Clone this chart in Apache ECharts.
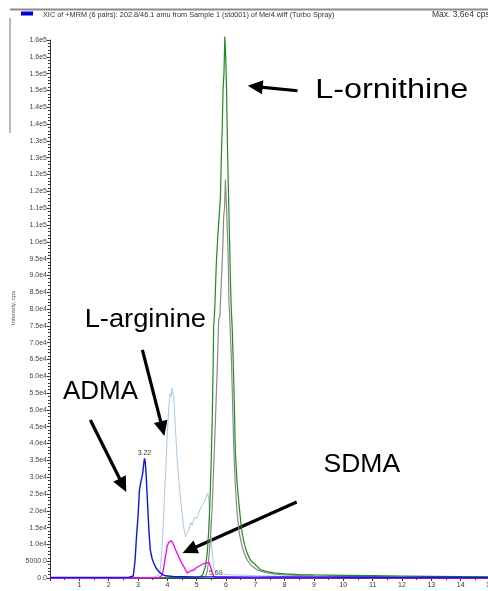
<!DOCTYPE html>
<html>
<head>
<meta charset="utf-8">
<script src="https://cdn.jsdelivr.net/npm/echarts@6/dist/echarts.min.js"></script>
<style>
html,body{margin:0;padding:0;background:#fff;}
#main{width:488px;height:591px;}
</style>
</head>
<body>
<div id="main"></div>
<script>
// ---- data (time in min, intensity in cps) ----
const admaTime = [0, 1, 2, 2.7, 2.84, 2.9, 2.95, 3.0, 3.05, 3.1, 3.13, 3.16, 3.19, 3.22, 3.25, 3.28, 3.32, 3.37, 3.42, 3.48, 3.54, 3.62, 3.71, 3.82, 3.93, 4.2, 4.6, 5, 6, 7, 8, 9, 10, 11, 12, 13, 14, 15];
const admaValue = [150, 200, 180, 250, 600, 5200, 12500, 18200, 26200, 28700, 29800, 31200, 33500, 35600, 34300, 30500, 23200, 14300, 8300, 5800, 4400, 2900, 1900, 1100, 650, 450, 380, 320, 300, 260, 300, 250, 220, 260, 200, 230, 210, 200];

const argTime = [0, 2, 3.5, 3.7, 3.76, 3.82, 3.86, 3.9, 3.95, 3.99, 4.02, 4.05, 4.08, 4.1, 4.13, 4.16, 4.19, 4.22, 4.25, 4.28, 4.33, 4.39, 4.45, 4.5, 4.56, 4.62, 4.67, 4.73, 4.8, 4.85, 4.9, 4.95, 5.0, 5.07, 5.12, 5.17, 5.24, 5.3, 5.34, 5.38, 5.41, 5.44, 5.47, 5.52, 5.58, 5.64, 5.7, 5.8, 6.0, 6.3, 6.7, 7.2, 8, 9, 10, 12, 15];
const argValue = [100, 150, 250, 700, 2500, 9300, 16000, 24200, 33000, 41000, 46000, 51000, 53500, 55000, 54000, 56400, 55000, 53900, 49000, 44000, 36000, 29100, 23500, 19200, 15000, 12300, 13200, 14300, 16500, 15800, 17300, 18200, 17600, 19300, 20500, 21200, 22300, 23500, 24500, 25200, 23500, 19500, 14300, 8500, 3400, 2000, 1400, 1200, 1000, 900, 800, 650, 500, 400, 350, 300, 250];

const sdmaTime = [0, 3, 3.7, 3.8, 3.85, 3.88, 3.93, 3.99, 4.04, 4.08, 4.13, 4.18, 4.24, 4.3, 4.39, 4.47, 4.56, 4.62, 4.68, 4.74, 4.8, 4.85, 4.9, 4.96, 5.02, 5.08, 5.14, 5.2, 5.26, 5.32, 5.38, 5.42, 5.47, 5.52, 5.58, 5.65, 5.8, 6.5, 8, 10, 12, 15];
const sdmaValue = [0, 50, 100, 600, 1800, 3400, 6000, 9300, 10500, 10900, 11100, 10500, 9300, 8000, 6300, 4800, 3400, 2400, 1400, 1700, 2200, 2400, 2300, 2900, 3400, 3500, 3900, 4100, 4400, 4500, 4850, 4600, 3400, 2000, 500, 200, 100, 80, 60, 50, 40, 30];

const ornTime = [0, 4, 5, 5.1, 5.15, 5.2, 5.24, 5.3, 5.36, 5.41, 5.45, 5.49, 5.53, 5.56, 5.58, 5.62, 5.67, 5.72, 5.77, 5.81, 5.84, 5.87, 5.9, 5.93, 5.96, 5.99, 6.02, 6.04, 6.07, 6.1, 6.13, 6.15, 6.18, 6.21, 6.24, 6.27, 6.32, 6.38, 6.44, 6.5, 6.55, 6.63, 6.72, 6.84, 6.95, 7.18, 7.4, 7.63, 8, 8.5, 9, 10, 11, 12, 13, 14, 15];
const ornValue = [100, 150, 200, 300, 500, 900, 1400, 3500, 7400, 14000, 22200, 33000, 47000, 62000, 74800, 80700, 93700, 101600, 108000, 113500, 125000, 133300, 145200, 150000, 161000, 155000, 145000, 133300, 120000, 108500, 97000, 88700, 80000, 74800, 66000, 56900, 37100, 28000, 22200, 17000, 13300, 10000, 7400, 5200, 4400, 2400, 1900, 1500, 1200, 1000, 900, 800, 700, 600, 500, 400, 300];

const grayTime = [0, 4, 5, 5.2, 5.3, 5.36, 5.41, 5.47, 5.53, 5.58, 5.64, 5.7, 5.75, 5.79, 5.83, 5.87, 5.9, 5.92, 5.95, 5.98, 6.01, 6.04, 6.07, 6.1, 6.13, 6.15, 6.18, 6.21, 6.24, 6.27, 6.32, 6.38, 6.45, 6.55, 6.63, 6.72, 6.85, 7.07, 7.3, 7.6, 8, 9, 10, 11, 12, 13, 15];
const grayValue = [80, 100, 150, 250, 400, 2000, 5400, 12000, 21200, 33000, 47000, 62000, 76800, 77800, 86000, 93700, 101000, 107500, 110000, 118500, 112000, 111500, 97000, 81700, 77000, 76800, 66000, 56900, 47000, 37100, 27000, 19300, 13500, 9300, 7200, 5400, 3800, 2400, 1700, 1200, 900, 600, 500, 400, 300, 250, 200];

const yTickLabels = ['0.0', '5000.0', '1.0e4', '1.5e4', '2.0e4', '2.5e4', '3.0e4', '3.5e4', '4.0e4', '4.5e4', '5.0e4', '5.5e4', '6.0e4', '6.5e4', '7.0e4', '7.5e4', '8.0e4', '8.5e4', '9.0e4', '9.5e4', '1.0e5', '1.1e5', '1.1e5', '1.2e5', '1.2e5', '1.3e5', '1.3e5', '1.4e5', '1.4e5', '1.5e5', '1.5e5', '1.6e5', '1.6e5'];

const peakLabels = [{ t: 3.22, v: 35600, text: '3.22' }];
const baseLabels = [{ t: 5.65, v: 1500, text: '5.69' }];

const annotations = [
  { text: 'L-ornithine', t: 11.65, v: 145000, size: 27, scaleX: 1.2 },
  { text: 'L-arginine', t: 3.25, v: 76800, size: 26, scaleX: 1.05 },
  { text: 'ADMA', t: 1.72, v: 55300, size: 26, scaleX: 1.0 },
  { text: 'SDMA', t: 10.63, v: 33600, size: 26, scaleX: 1.02 }
];
const arrows = [
  { from: [8.44, 144900], to: [6.74, 146400] },
  { from: [3.15, 67850], to: [3.90, 42260] },
  { from: [1.375, 47000], to: [2.60, 25600] },
  { from: [8.41, 22600], to: [4.52, 7440] }
];

function pairs(ts, vs) { return ts.map((t, i) => [t, vs[i]]); }

const FONT = 'Liberation Sans, Arial, sans-serif';
const chart = echarts.init(document.getElementById('main'), null, { renderer: 'canvas' });

function lineSeries(name, ts, vs, color, width, extra) {
  return Object.assign({
    name: name,
    type: 'line',
    data: pairs(ts, vs),
    showSymbol: false,
    symbol: 'none',
    smooth: false,
    clip: false,
    lineStyle: { color: color, width: width },
    animation: false
  }, extra || {});
}

const option = {
  animation: false,
  backgroundColor: '#ffffff',
  textStyle: { fontFamily: FONT },
  grid: { left: 50, top: 40, width: 440, bottom: 13, containLabel: false, outerBoundsMode: 'none' },
  xAxis: {
    type: 'value', min: 0, max: 15, interval: 1,
    axisLine: { show: true, lineStyle: { color: '#333', width: 1 } },
    axisTick: { show: true, length: 3, lineStyle: { color: '#333' } },
    minorTick: { show: true, splitNumber: 2, length: 2, lineStyle: { color: '#333' } },
    splitLine: { show: false },
    axisLabel: { fontSize: 7, color: '#333', margin: 4, fontFamily: FONT, hideOverlap: false,
      formatter: v => (v === 0 ? '' : String(v)) }
  },
  yAxis: {
    type: 'value', min: 0, max: 160000, interval: 5000,
    axisLine: { show: true, lineStyle: { color: '#333', width: 1 } },
    axisTick: { show: true, length: 3, lineStyle: { color: '#333' } },
    minorTick: { show: true, splitNumber: 5, length: 2, lineStyle: { color: '#333' } },
    splitLine: { show: false },
    axisLabel: { fontSize: 7, color: '#444', margin: 3, fontFamily: FONT,
      formatter: v => yTickLabels[Math.round(v / 5000)] }
  },
  series: [
    lineSeries('L-arginine', argTime, argValue, '#a9c9ee', 1),
    lineSeries('gray', grayTime, grayValue, '#8a8a8a', 1.2),
    lineSeries('L-ornithine', ornTime, ornValue, '#1e8c1e', 1.2),
    lineSeries('SDMA', sdmaTime, sdmaValue, '#ff00ff', 1.3, {
      markPoint: {
        symbol: 'circle', symbolSize: 0, animation: false,
        label: { show: true, position: 'inside', fontSize: 7, color: '#555', fontFamily: FONT, formatter: p => p.name },
        data: baseLabels.map(d => ({ name: d.text, coord: [d.t, d.v] }))
      }
    }),
    lineSeries('ADMA', admaTime, admaValue, '#0a14f0', 1.4, {
      markPoint: {
        symbol: 'circle', symbolSize: 0, animation: false,
        label: { show: true, position: 'top', distance: 2, fontSize: 7, color: '#333', fontFamily: FONT, formatter: p => p.name },
        data: peakLabels.map(d => ({ name: d.text, coord: [d.t, d.v] }))
      }
    })
  ]
};
chart.setOption(option);

// ---- graphics: header, axis title, annotations, arrows ----
const g = [];
g.push({ type: 'line', shape: { x1: 10, y1: 9.5, x2: 488, y2: 9.5 }, style: { stroke: '#8c8c8c', lineWidth: 2 }, silent: true });
g.push({ type: 'line', shape: { x1: 10, y1: 18, x2: 10, y2: 133 }, style: { stroke: '#8c8c8c', lineWidth: 1.2 }, silent: true });
g.push({ type: 'rect', shape: { x: 21, y: 11.5, width: 12, height: 4 }, style: { fill: '#0000e0' }, silent: true });
g.push({ type: 'text', x: 43, y: 14.5, style: { text: 'XIC of +MRM (6 pairs): 202.8/46.1 amu from Sample 1 (std001) of Mel4.wiff (Turbo Spray)', font: '7.3px ' + FONT, fill: '#333', textVerticalAlign: 'middle' }, silent: true });
g.push({ type: 'text', x: 432, y: 14.5, style: { text: 'Max. 3.6e4 cps', font: '8.5px ' + FONT, fill: '#333', textVerticalAlign: 'middle' }, silent: true });
g.push({ type: 'text', x: 13, y: 308, rotation: Math.PI / 2, style: { text: 'Intensity, cps', font: '6px ' + FONT, fill: '#555', textAlign: 'center', textVerticalAlign: 'middle' }, silent: true });

annotations.forEach(a => {
  const p = chart.convertToPixel({ gridIndex: 0 }, [a.t, a.v]);
  g.push({ type: 'text', x: p[0], y: p[1], scaleX: a.scaleX, originX: 0, originY: 0,
    style: { text: a.text, font: a.size + 'px ' + FONT, fill: '#000', textAlign: 'center', textVerticalAlign: 'middle' }, silent: true });
});

arrows.forEach(a => {
  const p0 = chart.convertToPixel({ gridIndex: 0 }, a.from);
  const p1 = chart.convertToPixel({ gridIndex: 0 }, a.to);
  const dx = p1[0] - p0[0], dy = p1[1] - p0[1];
  const len = Math.sqrt(dx * dx + dy * dy);
  const ux = dx / len, uy = dy / len;
  const headLen = 15, headHalf = 7;
  const bx = p1[0] - ux * headLen, by = p1[1] - uy * headLen;
  g.push({ type: 'line', shape: { x1: p0[0], y1: p0[1], x2: bx + ux * 2, y2: by + uy * 2 }, style: { stroke: '#000', lineWidth: 3.2 }, silent: true });
  g.push({ type: 'polygon', shape: { points: [[p1[0], p1[1]], [bx - uy * headHalf, by + ux * headHalf], [bx + uy * headHalf, by - ux * headHalf]] }, style: { fill: '#000' }, silent: true });
});

chart.setOption({ graphic: g });
</script>
</body>
</html>
